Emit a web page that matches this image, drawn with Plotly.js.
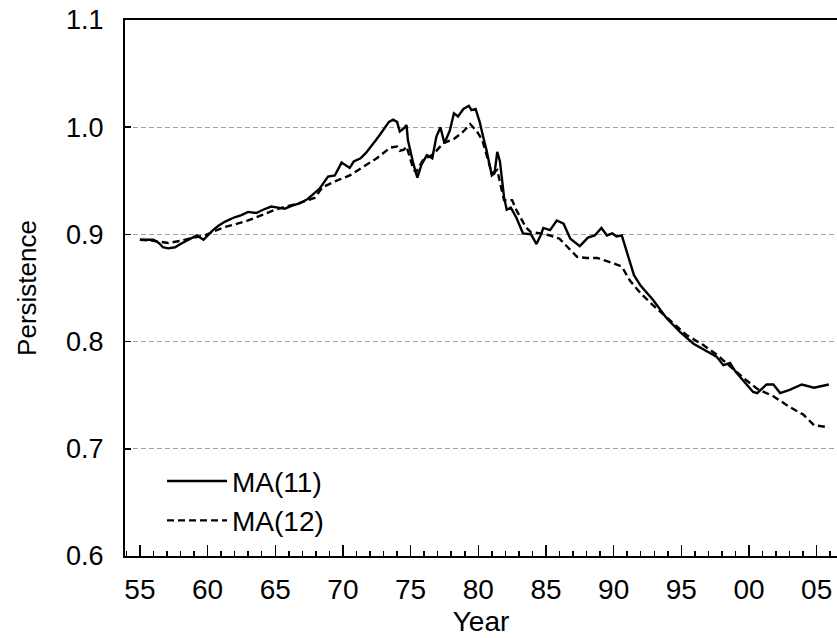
<!DOCTYPE html>
<html>
<head>
<meta charset="utf-8">
<script src="https://cdn.plot.ly/plotly-3.0.1.min.js"></script>
<style>html,body{margin:0;padding:0;background:#fff;}#chart{width:837px;height:638px;}</style>
</head>
<body>
<div id="chart"></div>
<script>
// MA(11) series: year (decimal) and persistence
const years11 = [1955.0,1956.0,1956.4,1956.7,1957.1,1957.6,1958.0,1958.3,1958.8,1959.2,1959.7,1960.0,1960.4,1960.8,1961.3,1962.0,1962.5,1963.0,1963.6,1964.1,1964.7,1965.2,1965.7,1966.3,1966.8,1967.4,1967.9,1968.3,1968.9,1969.4,1969.9,1970.5,1970.8,1971.3,1971.7,1972.1,1972.5,1972.9,1973.4,1973.7,1974.0,1974.2,1974.5,1974.7,1974.8,1975.2,1975.5,1975.8,1976.2,1976.6,1976.9,1977.2,1977.5,1977.9,1978.2,1978.5,1978.9,1979.3,1979.5,1979.8,1980.1,1980.4,1980.6,1981.0,1981.2,1981.4,1981.6,1981.9,1982.1,1982.4,1982.6,1982.8,1983.3,1983.9,1984.3,1984.6,1984.8,1985.3,1985.8,1986.3,1986.8,1987.5,1988.1,1988.6,1989.1,1989.5,1989.9,1990.2,1990.6,1991.0,1991.5,1992.0,1992.9,1993.9,1994.9,1995.9,1996.9,1997.6,1998.1,1998.6,1999.0,1999.6,2000.3,2000.6,2001.3,2001.8,2002.3,2003.0,2003.9,2004.8,2005.4,2005.9];
const ma11 = [0.895,0.895,0.892,0.888,0.887,0.888,0.891,0.893,0.897,0.899,0.895,0.899,0.904,0.908,0.912,0.916,0.918,0.921,0.920,0.923,0.926,0.925,0.924,0.927,0.929,0.933,0.939,0.943,0.954,0.955,0.967,0.962,0.968,0.971,0.976,0.982,0.989,0.996,1.005,1.007,1.005,0.996,0.999,1.002,0.988,0.966,0.953,0.965,0.974,0.971,0.991,1.000,0.985,0.997,1.013,1.010,1.017,1.020,1.016,1.017,1.005,0.989,0.979,0.955,0.957,0.977,0.968,0.935,0.923,0.925,0.921,0.916,0.901,0.900,0.891,0.899,0.906,0.904,0.913,0.910,0.896,0.889,0.897,0.899,0.906,0.899,0.901,0.898,0.899,0.882,0.862,0.852,0.839,0.822,0.809,0.798,0.791,0.786,0.778,0.780,0.772,0.763,0.753,0.752,0.760,0.760,0.752,0.755,0.760,0.757,0.759,0.760];

// MA(12) series
const years12 = [1955.0,1956.0,1957.1,1958.0,1959.0,1959.8,1960.5,1961.3,1962.2,1963.0,1964.0,1965.0,1965.8,1966.7,1967.9,1968.5,1969.5,1970.5,1971.5,1972.5,1973.5,1974.0,1974.2,1974.5,1974.7,1975.2,1975.4,1975.9,1976.7,1977.4,1978.2,1978.9,1979.4,1979.9,1980.3,1980.6,1981.0,1981.4,1981.9,1982.5,1982.8,1983.5,1983.9,1984.6,1985.3,1986.0,1986.8,1987.3,1988.0,1988.8,1990.0,1990.6,1991.2,1992.0,1992.9,1994.2,1995.4,1996.6,1997.6,1998.6,1999.6,2000.6,2001.8,2003.0,2004.0,2004.8,2005.9];
const ma12 = [0.895,0.894,0.892,0.894,0.897,0.899,0.903,0.907,0.910,0.913,0.918,0.923,0.926,0.929,0.934,0.944,0.950,0.955,0.963,0.971,0.981,0.982,0.978,0.979,0.982,0.961,0.958,0.969,0.975,0.985,0.989,0.996,1.003,0.996,0.988,0.975,0.957,0.960,0.932,0.932,0.923,0.907,0.902,0.901,0.899,0.896,0.885,0.879,0.878,0.878,0.873,0.870,0.857,0.845,0.834,0.819,0.806,0.797,0.788,0.777,0.766,0.756,0.749,0.739,0.732,0.722,0.720];

// Tick labels
const xTickVals = [1955,1960,1965,1970,1975,1980,1985,1990,1995,2000,2005];
const xTickText = ['55','60','65','70','75','80','85','90','95','00','05'];
const yTickVals = [0.6,0.7,0.8,0.9,1.0,1.1];
const seriesNames = ['MA(11)','MA(12)'];

const FONT = 'Liberation Sans, Arial, sans-serif';
const FS = 27;

const traces = [
  {x: years11, y: ma11, name: seriesNames[0], legendgroup: 'g1', type: 'scatter', mode: 'lines',
   line: {color: '#000', width: 2.4, dash: 'solid'}},
  {x: years12, y: ma12, name: seriesNames[1], legendgroup: 'g2', type: 'scatter', mode: 'lines',
   line: {color: '#000', width: 2.4, dash: '7px,4px'}}
];

const layout = {
  width: 837, height: 638,
  margin: {l: 125, r: 0, t: 20, b: 82},
  paper_bgcolor: '#fff', plot_bgcolor: '#fff',
  font: {family: FONT, size: FS, color: '#000'},
  showlegend: true,
  legend: {x: 0.052, y: 0.186, xanchor: 'left', yanchor: 'top',
           bgcolor: 'rgba(0,0,0,0)', font: {size: 28}, itemwidth: 60,
           tracegroupgap: 0},
  xaxis: {
    range: [1953.9, 2006.5],
    tickmode: 'array', tickvals: xTickVals, ticktext: xTickText,
    ticks: 'inside', ticklen: 11, tickwidth: 1.5, tickcolor: '#000',
    minor: {dtick: 1, tick0: 1955, ticks: 'inside', ticklen: 5, tickwidth: 1.5, tickcolor: '#000', showgrid: false},
    showline: true, linecolor: '#000', linewidth: 2, mirror: true,
    showgrid: false, zeroline: false,
    tickfont: {size: 28}, ticklabelstandoff: 7,
    title: {text: 'Year', font: {size: 28}, standoff: 8}
  },
  yaxis: {
    range: [0.6, 1.1],
    tickmode: 'array', tickvals: yTickVals, ticktext: yTickVals.map(v => v.toFixed(1)),
    ticks: 'inside', ticklen: 6, tickwidth: 1.5, tickcolor: '#000',
    showline: true, linecolor: '#000', linewidth: 2,
    showgrid: true, gridcolor: '#a0a0a0', gridwidth: 1, griddash: '5px,3px',
    zeroline: false,
    tickfont: {size: 27}, ticklabelstandoff: 14,
    title: {text: 'Persistence', font: {size: 26}, standoff: 22}
  }
};

Plotly.newPlot('chart', traces, layout, {displayModeBar: false, staticPlot: true});
</script>
</body>
</html>
